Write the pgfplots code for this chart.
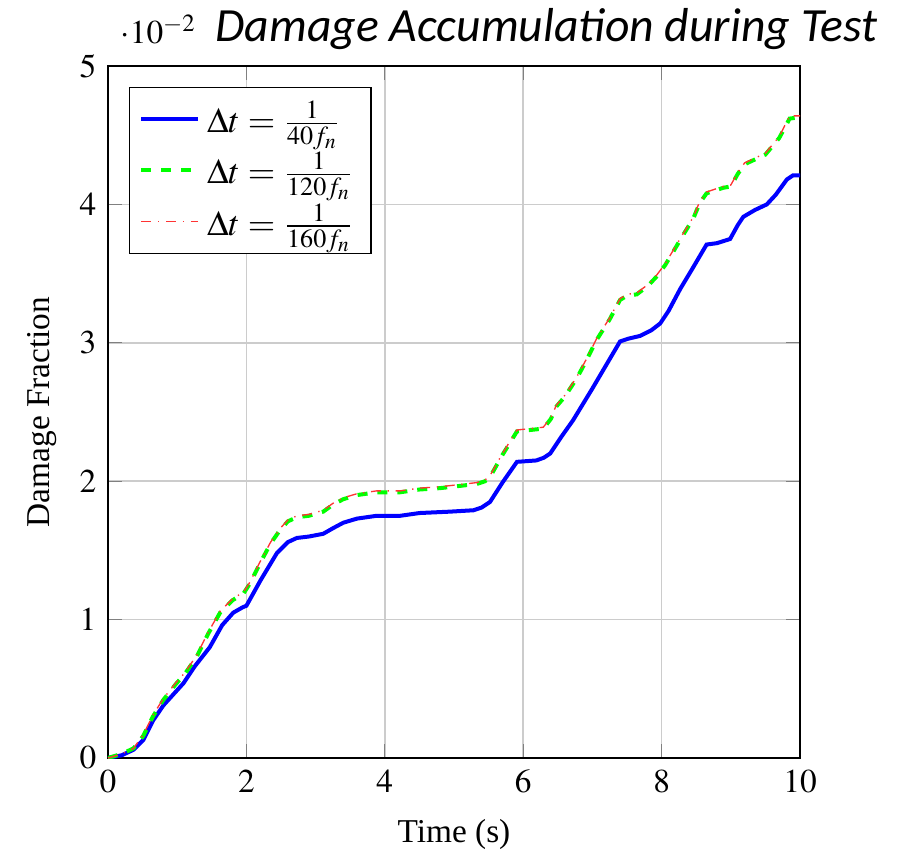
\documentclass[border=0pt]{standalone}
\usepackage{mathptmx}
\usepackage{fontspec}
\setmainfont{Liberation Serif}
\newfontfamily\calibri{Carlito}
\usepackage{pgfplots}
\usepackage{pgfplotstable}
\pgfplotsset{compat=1.18}

\pgfplotstableread{
x y
0 0
0.2 0.02
0.37 0.06
0.51 0.13
0.65 0.27
0.8 0.38
1.09 0.54
1.25 0.66
1.47 0.80
1.65 0.96
1.81 1.05
1.95 1.09
2.0 1.10
2.2 1.28
2.44 1.48
2.6 1.56
2.73 1.59
2.9 1.60
3.11 1.62
3.25 1.66
3.40 1.70
3.6 1.73
3.88 1.75
4.22 1.75
4.5 1.77
4.94 1.78
5.28 1.79
5.40 1.81
5.52 1.85
5.7 1.99
5.91 2.14
6.19 2.15
6.30 2.17
6.39 2.20
6.55 2.32
6.72 2.44
7.0 2.67
7.2 2.84
7.40 3.01
7.52 3.03
7.69 3.05
7.85 3.09
7.98 3.14
8.1 3.23
8.27 3.39
8.45 3.54
8.65 3.71
8.8 3.72
8.99 3.75
9.1 3.85
9.18 3.91
9.35 3.96
9.52 4.00
9.65 4.07
9.81 4.18
9.9 4.21
10 4.21
}\dtforty

\pgfplotstableread{
x y
0 0
0.2 0.03
0.37 0.07
0.51 0.16
0.65 0.30
0.8 0.42
0.99 0.54
1.1 0.60
1.28 0.73
1.45 0.90
1.62 1.05
1.8 1.14
1.96 1.19
2.05 1.26
2.20 1.41
2.35 1.55
2.49 1.65
2.6 1.71
2.73 1.74
2.9 1.75
3.11 1.78
3.25 1.83
3.40 1.87
3.6 1.90
3.88 1.92
4.22 1.92
4.5 1.94
4.8 1.95
5.33 1.98
5.45 2.00
5.52 2.03
5.7 2.19
5.91 2.36
6.1 2.37
6.29 2.38
6.40 2.45
6.48 2.54
6.6 2.61
6.77 2.74
6.9 2.86
7.06 3.02
7.25 3.17
7.40 3.31
7.5 3.34
7.64 3.35
7.8 3.41
7.93 3.48
8.05 3.56
8.17 3.66
8.3 3.77
8.46 3.90
8.55 4.01
8.65 4.08
8.89 4.12
9.0 4.13
9.1 4.22
9.2 4.29
9.5 4.36
9.6 4.42
9.7 4.48
9.85 4.62
10 4.63
}\dtonetwenty

\pgfplotstableread{
x y
0 0
0.2 0.03
0.37 0.07
0.51 0.17
0.65 0.31
0.8 0.43
0.99 0.55
1.1 0.61
1.28 0.74
1.45 0.91
1.62 1.06
1.8 1.15
1.96 1.20
2.05 1.27
2.20 1.42
2.35 1.56
2.49 1.66
2.6 1.72
2.73 1.75
2.9 1.76
3.11 1.79
3.25 1.84
3.40 1.88
3.6 1.91
3.88 1.93
4.22 1.93
4.5 1.95
4.8 1.96
5.33 1.99
5.45 2.01
5.52 2.04
5.7 2.20
5.91 2.37
6.1 2.38
6.29 2.39
6.40 2.46
6.48 2.55
6.6 2.62
6.77 2.75
6.9 2.87
7.06 3.03
7.25 3.18
7.40 3.32
7.5 3.35
7.64 3.36
7.8 3.42
7.93 3.49
8.05 3.57
8.17 3.67
8.3 3.78
8.46 3.91
8.55 4.02
8.65 4.09
8.89 4.13
9.0 4.14
9.1 4.23
9.2 4.30
9.5 4.37
9.6 4.43
9.7 4.49
9.85 4.64
10 4.64
}\dtonesixty

\begin{document}
\begin{tikzpicture}
    \path[use as bounding box] (-32.4pt,-27.3pt) rectangle (237.9pt,227.4pt);
    \begin{axis}[
            scale only axis,
            width=207.6pt, height=207.6pt,
            font=\normalsize,
            xmin=0, xmax=10,
            ymin=0, ymax=5,
            xtick={0,2,...,10},
            ytick={0,1,...,5},
            grid=major,
            major grid style={line width=.5pt, draw=gray!40},
            xlabel={Time (s)},
            ylabel={Damage Fraction},
            scaled y ticks=manual:{$\cdot 10^{-2}$}{\pgfmathparse{#1}},
            every y tick scale label/.style={at={(0,1)}, anchor=south west, inner sep=0pt, xshift=3.6pt, yshift=6.3pt},
            xlabel style={yshift=-1pt},
            ylabel style={yshift=0pt},
            legend style={at={(0.03,0.97)}, anchor=north west, draw=black, font=\fontsize{10.6}{12}\selectfont, row sep=0.5pt},
            legend cell align=left,
        ]
        \addplot[blue, line width=1.2pt] table[x=x, y=y] {\dtforty};
        \addlegendentry{$\Delta t = \frac{1}{40f_n}$}
        \addplot[green, line width=1.2pt, dashed] table[x=x, y=y] {\dtonetwenty};
        \addlegendentry{$\Delta t = \frac{1}{120f_n}$}
        \addplot[red!80, line width=0.4pt, dash dot] table[x=x, y=y] {\dtonesixty};
        \addlegendentry{$\Delta t = \frac{1}{160f_n}$}
    \end{axis}
    \node[anchor=base west, inner sep=0pt, font=\calibri\itshape\fontsize{14.3}{16}\selectfont] at (32.1pt,214.8pt) {Damage Accumulation during Test};
\end{tikzpicture}
\end{document}
